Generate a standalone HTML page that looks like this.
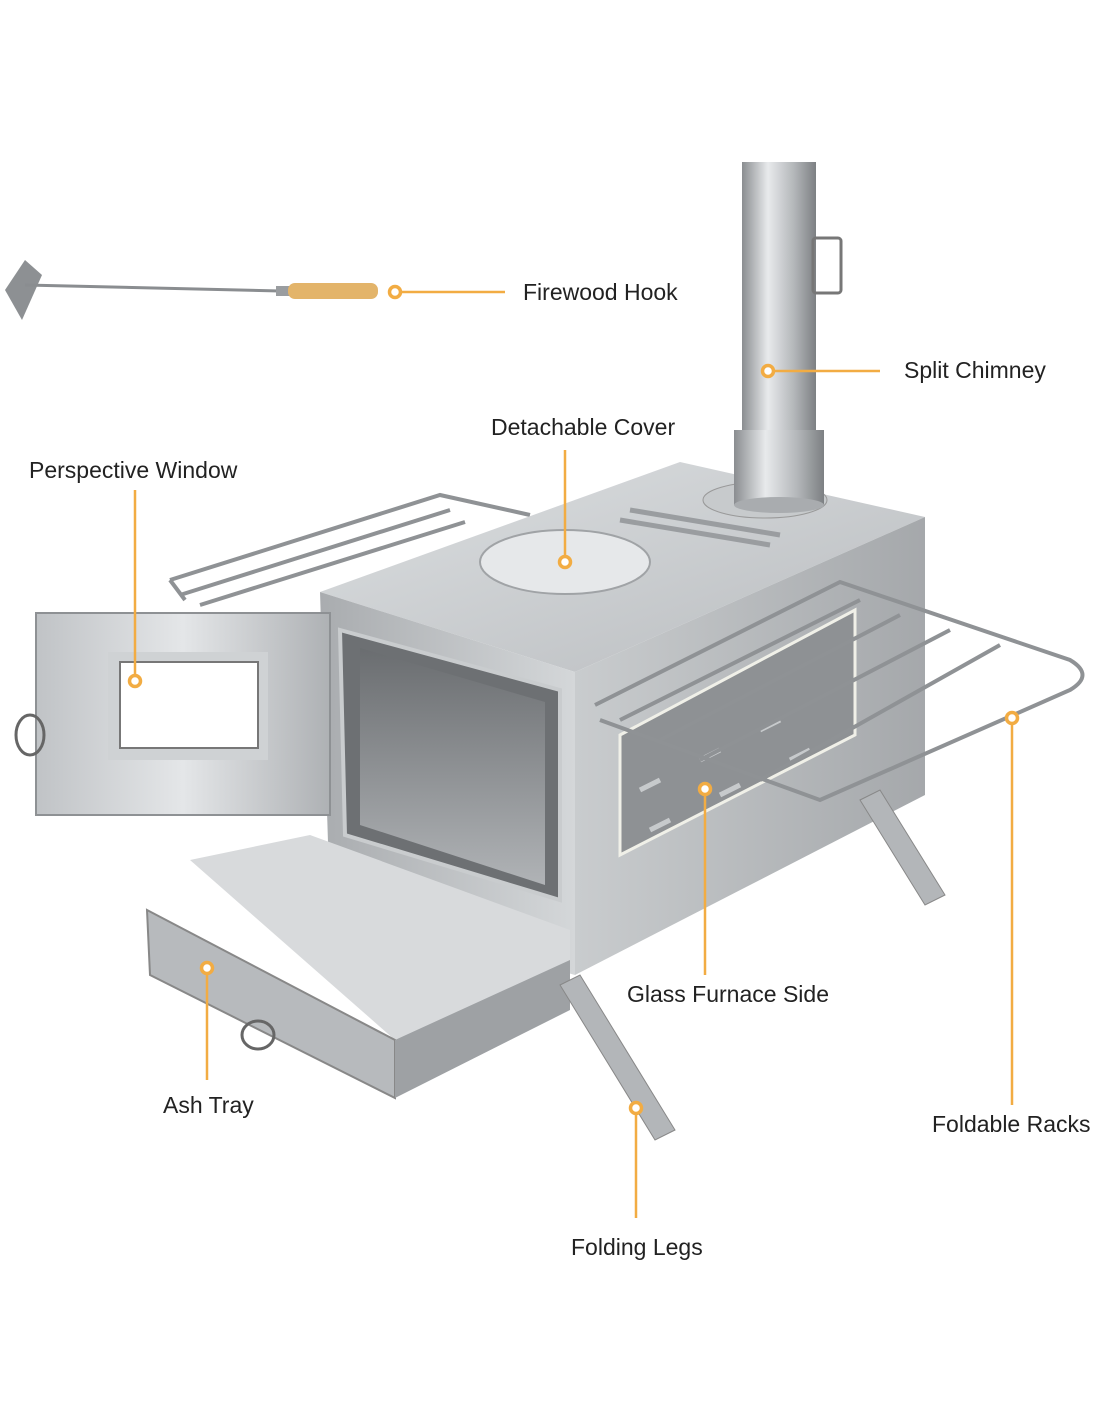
<!DOCTYPE html>
<html><head><meta charset="utf-8"><style>
html,body{margin:0;padding:0;background:#fff}
svg{display:block}
text{font-family:"Liberation Sans",Arial,sans-serif;font-size:23px;fill:#222}
</style></head><body>
<svg width="1100" height="1422" viewBox="0 0 1100 1422" xmlns="http://www.w3.org/2000/svg">
<defs>
<linearGradient id="chim" x1="0" x2="1"><stop offset="0" stop-color="#8a8d90"/><stop offset=".35" stop-color="#e8eaec"/><stop offset=".7" stop-color="#b4b7ba"/><stop offset="1" stop-color="#7d8083"/></linearGradient>
<linearGradient id="top" x1="0" y1="0" x2="1" y2="1"><stop offset="0" stop-color="#dcdfe1"/><stop offset="1" stop-color="#b9bcbf"/></linearGradient>
<linearGradient id="side" x1="0" x2="1"><stop offset="0" stop-color="#c9ccce"/><stop offset="1" stop-color="#a5a8ab"/></linearGradient>
<linearGradient id="front" x1="0" x2="1"><stop offset="0" stop-color="#a9acaf"/><stop offset="1" stop-color="#d4d7d9"/></linearGradient>
<linearGradient id="door" x1="0" x2="1"><stop offset="0" stop-color="#c0c3c6"/><stop offset=".5" stop-color="#e4e6e8"/><stop offset="1" stop-color="#aeb1b4"/></linearGradient>
<linearGradient id="inner" x1="0" y1="0" x2="0" y2="1"><stop offset="0" stop-color="#6a6d70"/><stop offset="1" stop-color="#b0b3b6"/></linearGradient>
</defs>

<!-- hook -->
<polygon points="5,290 25,260 42,275 22,320" fill="#8d9093"/>
<line x1="25" y1="285" x2="280" y2="291" stroke="#8a8d90" stroke-width="3"/>
<rect x="276" y="286" width="14" height="10" fill="#9a9da0"/>
<rect x="288" y="283" width="90" height="16" rx="7" fill="#e3b46a"/>

<!-- back rack -->
<g fill="none" stroke="#8f9295" stroke-width="4">
<path d="M170,580 L440,495 L530,515"/><path d="M180,595 L450,510"/><path d="M200,605 L465,522"/><path d="M170,580 L185,600"/>
</g>

<!-- body -->
<polygon points="320,592 680,462 925,517 575,672" fill="url(#top)"/>
<polygon points="575,672 925,517 925,795 575,975" fill="url(#side)"/>
<polygon points="320,592 575,672 575,975 330,905" fill="url(#front)"/>
<ellipse cx="565" cy="562" rx="85" ry="32" fill="#e6e8ea" stroke="#a0a3a6" stroke-width="2"/>
<path d="M620,520 L770,545 M630,510 L780,535" stroke="#9a9da0" stroke-width="5"/>

<!-- chimney -->
<ellipse cx="765" cy="500" rx="62" ry="18" fill="#c7cacc" stroke="#999"/>
<rect x="742" y="162" width="74" height="345" fill="url(#chim)"/>
<rect x="734" y="430" width="90" height="75" fill="url(#chim)"/>
<ellipse cx="779" cy="505" rx="45" ry="8" fill="#a9acaf"/>
<rect x="813" y="238" width="28" height="55" rx="3" fill="none" stroke="#777" stroke-width="3"/>

<!-- firebox opening -->
<polygon points="340,630 560,690 560,900 345,835" fill="#6d7073" stroke="#c9ccce" stroke-width="4"/>
<polygon points="360,648 545,702 545,885 360,825" fill="url(#inner)"/>
<!-- glass side -->
<polygon points="620,735 855,610 855,735 620,855" fill="#8e9194" stroke="#f0f0e8" stroke-width="3"/>
<g stroke="#c7cacc" stroke-width="5"><line x1="640" y1="790" x2="660" y2="780"/><line x1="700" y1="760" x2="720" y2="750"/><line x1="760" y1="730" x2="780" y2="720"/><line x1="650" y1="830" x2="670" y2="820"/><line x1="720" y1="795" x2="740" y2="785"/><line x1="790" y1="760" x2="810" y2="750"/></g>

<!-- door -->
<polygon points="36,613 330,613 330,815 36,815" fill="url(#door)" stroke="#8e9194" stroke-width="2"/>
<rect x="108" y="652" width="160" height="108" fill="#cfd2d4"/>
<rect x="120" y="662" width="138" height="86" fill="#fff" stroke="#777" stroke-width="2"/>
<ellipse cx="30" cy="735" rx="14" ry="20" fill="none" stroke="#666" stroke-width="3"/>

<!-- ash tray -->
<polygon points="190,860 310,835 570,930 570,975 395,1040" fill="#d8dadc"/>
<polygon points="147,910 395,1040 395,1098 150,975" fill="#b7babd" stroke="#888" stroke-width="2"/>
<polygon points="395,1040 570,960 570,1010 395,1098" fill="#9ea1a4"/>
<ellipse cx="258" cy="1035" rx="16" ry="14" fill="none" stroke="#666" stroke-width="3"/>

<!-- legs -->
<polygon points="560,985 580,975 675,1130 655,1140" fill="#b3b6b9" stroke="#888"/>
<polygon points="860,800 880,790 945,895 925,905" fill="#b3b6b9" stroke="#888"/>

<!-- front rack -->
<g fill="none" stroke="#8f9295" stroke-width="4">
<path d="M595,705 L840,582 L1070,660 Q1095,675 1070,690 L820,800 L600,720"/>
<path d="M620,720 L860,600"/><path d="M660,740 L900,615"/><path d="M700,760 L950,630"/><path d="M760,780 L1000,645"/>
</g>

<!-- callouts -->
<g stroke="#f2ac43" stroke-width="2.5" fill="none">
<line x1="401" y1="292" x2="505" y2="292"/>
<line x1="774" y1="371" x2="880" y2="371"/>
<line x1="565" y1="450" x2="565" y2="556"/>
<line x1="135" y1="490" x2="135" y2="675"/>
<line x1="705" y1="795" x2="705" y2="975"/>
<line x1="1012" y1="724" x2="1012" y2="1105"/>
<line x1="207" y1="974" x2="207" y2="1080"/>
<line x1="636" y1="1114" x2="636" y2="1218"/>
</g>
<g fill="#fff" stroke="#f2ac43" stroke-width="3.5">
<circle cx="395" cy="292" r="5.5"/><circle cx="768" cy="371" r="5.5"/><circle cx="565" cy="562" r="5.5"/><circle cx="135" cy="681" r="5.5"/>
<circle cx="705" cy="789" r="5.5"/><circle cx="1012" cy="718" r="5.5"/><circle cx="207" cy="968" r="5.5"/><circle cx="636" cy="1108" r="5.5"/>
</g>

<text x="523" y="300">Firewood Hook</text>
<text x="904" y="378">Split Chimney</text>
<text x="491" y="435">Detachable Cover</text>
<text x="29" y="478">Perspective Window</text>
<text x="627" y="1002">Glass Furnace Side</text>
<text x="932" y="1132">Foldable Racks</text>
<text x="163" y="1113">Ash Tray</text>
<text x="571" y="1255">Folding Legs</text>
</svg>
</body></html>
